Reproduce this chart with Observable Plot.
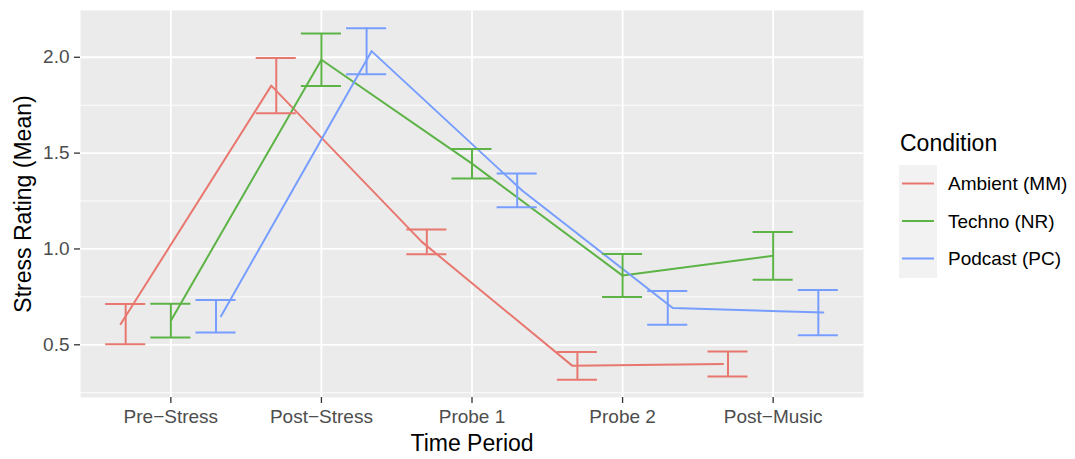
<!DOCTYPE html>
<html><head><meta charset="utf-8">
<script src="https://cdn.jsdelivr.net/npm/d3@7"></script>
<script src="https://cdn.jsdelivr.net/npm/@observablehq/plot@0.6"></script>
<style>
body{margin:0;background:#fff;}
#wrap{position:relative;width:1075px;height:459px;font-family:"Liberation Sans",Arial,Helvetica,sans-serif;}
#wrap svg{display:block;}
#legend{position:absolute;left:0;top:0;pointer-events:none;}
</style></head><body><div id="wrap"></div>
<script>
// ---- data ----
const periods = ["Pre\u2212Stress", "Post\u2212Stress", "Probe 1", "Probe 2", "Post\u2212Music"];
const conditions = ["Ambient (MM)", "Techno (NR)", "Podcast (PC)"];
const ambientMean = [0.608, 1.852, 1.037, 0.390, 0.400];
const ambientSE   = [0.105, 0.144, 0.065, 0.072, 0.065];
const technoMean  = [0.626, 1.987, 1.445, 0.861, 0.964];
const technoSE    = [0.088, 0.137, 0.077, 0.112, 0.125];
const podcastMean = [0.649, 2.032, 1.305, 0.692, 0.668];
const podcastSE   = [0.085, 0.120, 0.088, 0.088, 0.118];
const yTicks = [0.5, 1.0, 1.5, 2.0];
const yMinorTicks = [0.25, 0.75, 1.25, 1.75];
const colors = ["#E8776F", "#5DB346", "#779EFF"];

// ---- build table ----
const means = [ambientMean, technoMean, podcastMean];
const ses = [ambientSE, technoSE, podcastSE];
const rows = [];
conditions.forEach((c, k) => {
  periods.forEach((p, i) => {
    rows.push({condition: c, k, i, mean: means[k][i], lo: means[k][i] - ses[k][i], hi: means[k][i] + ses[k][i]});
  });
});

// dodge offsets (layout)
const lineDodge = [-0.333, 0, 0.333];
const errDodge = [-0.3, 0, 0.3];
const capHalf = 0.133;

const font = '"Liberation Sans", Arial, Helvetica, sans-serif';
const xPos = d => d.i + lineDodge[d.k];
const ePos = d => d.i + errDodge[d.k];

const plot = Plot.plot({
  width: 1075,
  height: 459,
  marginLeft: 80,
  marginRight: 212,
  marginTop: 10,
  marginBottom: 62,
  style: {fontFamily: font, background: "white", overflow: "visible"},
  x: {domain: [-0.6, 4.6]},
  y: {domain: [0.225, 2.244]},
  color: {domain: conditions, range: colors},
  marks: [
    Plot.frame({fill: "#EBEBEB", stroke: null}),
    Plot.gridY(yMinorTicks, {stroke: "white", strokeOpacity: 1, strokeWidth: 0.9}),
    Plot.gridY(yTicks, {stroke: "white", strokeOpacity: 1, strokeWidth: 1.8}),
    Plot.gridX(d3.range(periods.length), {stroke: "white", strokeOpacity: 1, strokeWidth: 1.8}),
    Plot.axisY(yTicks, {tickFormat: d3.format(".1f"), fontSize: 19, fill: "#4D4D4D", stroke: "#333333", tickSize: 6, tickPadding: 5, strokeWidth: 1.3, label: null}),
    Plot.axisX(d3.range(periods.length), {tickFormat: i => periods[i], fontSize: 19, fill: "#4D4D4D", stroke: "#333333", tickSize: 6, tickPadding: 6, strokeWidth: 1.3, label: null}),
    Plot.line(rows, {x: xPos, y: "mean", z: "condition", stroke: "condition", strokeWidth: 2}),
    Plot.ruleX(rows, {x: ePos, y1: "lo", y2: "hi", stroke: "condition", strokeWidth: 2}),
    Plot.ruleY(rows, {y: "hi", x1: d => ePos(d) - capHalf, x2: d => ePos(d) + capHalf, stroke: "condition", strokeWidth: 2}),
    Plot.ruleY(rows, {y: "lo", x1: d => ePos(d) - capHalf, x2: d => ePos(d) + capHalf, stroke: "condition", strokeWidth: 2}),
    Plot.text(["Time Period"], {frameAnchor: "bottom", lineAnchor: "middle", textAnchor: "middle", dy: 46, fontSize: 23, fill: "black"}),
    Plot.text(["Stress Rating (Mean)"], {frameAnchor: "left", lineAnchor: "middle", textAnchor: "middle", dx: -57, rotate: -90, fontSize: 23, fill: "black"})
  ]
});
document.getElementById("wrap").appendChild(plot);

// ---- legend ----
const colorScale = plot.scale("color");
const lg = d3.select("#wrap").append("svg").attr("id", "legend").attr("width", 1075).attr("height", 459)
  .style("font-family", font);
lg.append("text").attr("x", 900).attr("y", 151).attr("font-size", 23).attr("fill", "black").text("Condition");
lg.append("rect").attr("x", 899).attr("y", 165).attr("width", 38).attr("height", 113).attr("fill", "#F2F2F2");
colorScale.domain.forEach((c, k) => {
  const y = 183.5 + k * 37.5;
  lg.append("line").attr("x1", 902).attr("x2", 934).attr("y1", y).attr("y2", y)
    .attr("stroke", colorScale.apply(c)).attr("stroke-width", 2);
  lg.append("text").attr("x", 948).attr("y", y).attr("dy", "0.35em").attr("font-size", 19).attr("fill", "black").text(c);
});
</script>
</body></html>
